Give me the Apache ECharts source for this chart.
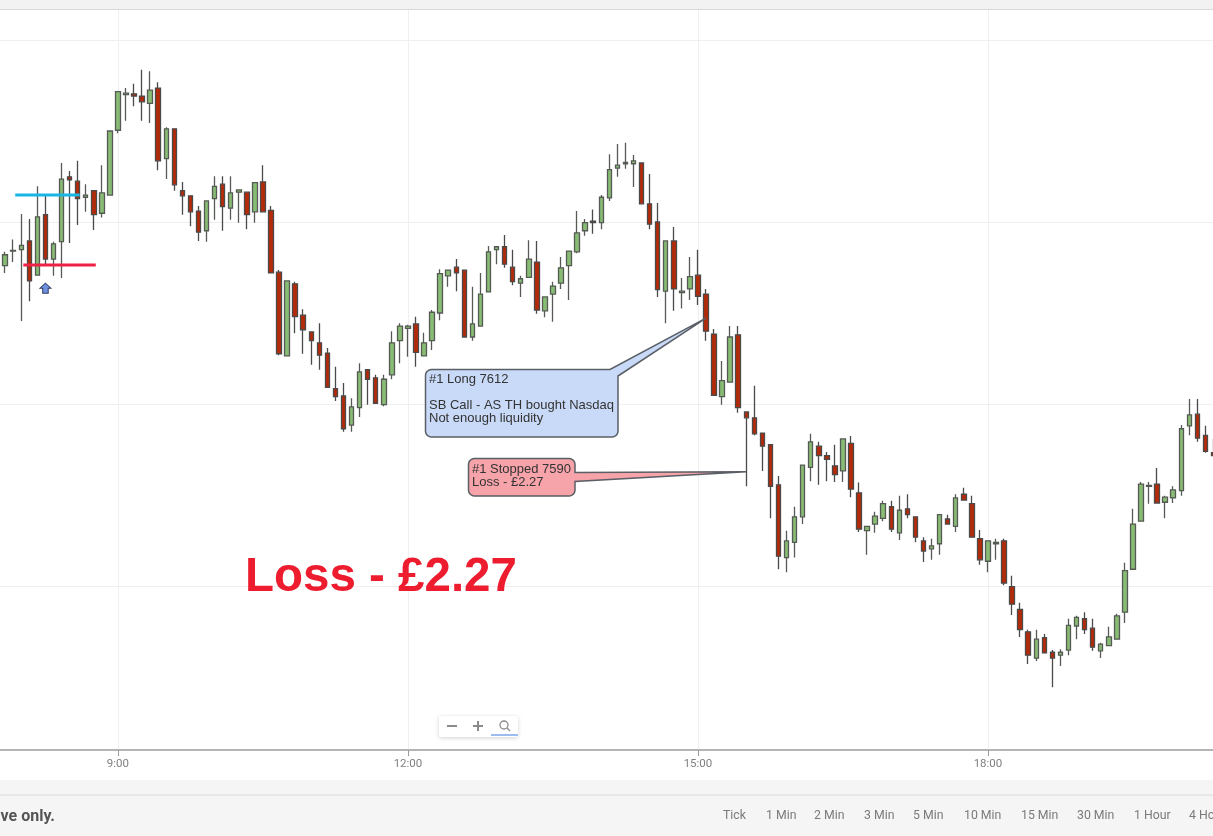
<!DOCTYPE html>
<html><head><meta charset="utf-8">
<style>html,body{margin:0;padding:0;background:#fff}#c{width:1213px;height:836px}</style>
<script src="https://cdn.jsdelivr.net/npm/echarts@6/dist/echarts.min.js"></script>
</head><body><div id="c"></div>
<script>
const tickLabels=['9:00','12:00','15:00','18:00'];
const gridPrices=[7575,7600,7625,7650];
const timeframes=['Tick','1 Min','2 Min','3 Min','5 Min','10 Min','15 Min','30 Min','1 Hour','4 Hour'];
const opens=[7619.0,7621.0,7621.2,7622.4,7617.7,7626.0,7619.9,7622.3,7631.2,7630.6,
7628.4,7629.3,7626.2,7628.7,7637.6,7642.5,7642.6,7642.3,7641.3,7643.4,
7633.7,7637.8,7629.3,7628.6,7626.5,7623.8,7628.2,7630.2,7626.9,7629.1,
7629.1,7626.4,7630.5,7626.6,7618.1,7606.6,7616.5,7612.2,7609.9,7608.4,
7607.0,7602.1,7601.1,7597.1,7599.5,7604.7,7603.6,7599.9,7604.0,7608.7,
7610.4,7611.0,7606.6,7608.7,7612.5,7617.6,7618.8,7618.4,7609.2,7610.7,
7615.4,7621.2,7621.6,7618.8,7616.6,7617.4,7619.5,7612.8,7615.1,7616.6,
7619.0,7620.9,7623.8,7625.1,7624.9,7628.3,7632.4,7633.0,7633.0,7633.1,
7627.5,7625.0,7615.5,7622.4,7615.3,7615.8,7617.7,7615.1,7609.6,7601.0,
7603.0,7609.5,7598.9,7598.1,7596.0,7594.4,7588.9,7578.9,7581.0,7584.5,
7591.3,7594.2,7592.9,7591.5,7590.8,7594.6,7587.8,7582.6,7583.5,7584.3,
7585.9,7582.3,7585.6,7584.5,7581.2,7580.1,7580.8,7584.2,7583.2,7587.6,
7586.3,7581.5,7578.4,7580.8,7581.2,7574.9,7571.8,7568.7,7565.1,7567.9,
7565.9,7565.5,7566.2,7569.5,7570.5,7569.2,7566.1,7566.8,7567.7,7571.4,
7577.3,7583.9,7588.7,7589.0,7586.5,7587.1,7588.1,7597.0,7598.6,7595.7,7593.3];
const closes=[7620.5,7621.1,7621.8,7616.9,7625.7,7619.9,7622.0,7630.9,7630.8,7628.2,
7628.7,7626.0,7629.0,7637.5,7642.9,7642.7,7642.3,7641.5,7643.1,7633.4,
7637.8,7630.1,7628.6,7626.4,7623.6,7627.9,7629.9,7627.1,7629.0,7629.4,
7626.0,7630.4,7626.4,7618.0,7606.9,7616.9,7612.0,7610.2,7608.7,7606.7,
7602.3,7601.0,7596.6,7599.6,7604.4,7603.4,7600.1,7603.4,7608.4,7610.7,
7610.7,7607.1,7608.4,7612.6,7617.9,7618.4,7618.0,7609.2,7611.0,7615.1,
7620.9,7621.6,7619.2,7616.8,7617.2,7619.9,7612.9,7614.7,7616.2,7618.7,
7621.0,7623.5,7624.9,7624.9,7628.4,7632.2,7632.8,7633.2,7633.4,7627.5,
7624.7,7615.7,7622.4,7615.8,7615.5,7617.5,7614.8,7610.0,7601.2,7603.2,
7609.2,7599.5,7598.1,7595.9,7594.2,7588.7,7579.1,7581.2,7584.5,7591.6,
7594.8,7592.9,7592.4,7590.3,7595.2,7588.3,7582.8,7583.2,7584.6,7586.3,
7582.8,7585.4,7584.8,7581.7,7579.8,7580.5,7584.8,7583.5,7587.1,7586.8,
7581.7,7578.6,7581.2,7581.0,7575.4,7572.5,7569.0,7565.5,7567.7,7565.8,
7565.1,7565.9,7569.6,7570.7,7569.0,7566.6,7567.0,7568.0,7570.9,7577.1,
7583.5,7589.0,7588.8,7586.4,7587.2,7588.2,7596.6,7598.5,7595.3,7593.5,7592.9];
const lows=[7618.0,7619.5,7611.4,7614.1,7617.7,7619.2,7617.6,7617.3,7622.1,7624.6,
7626.4,7623.9,7625.6,7628.7,7637.2,7638.9,7640.9,7638.9,7638.6,7632.1,
7630.9,7629.3,7626.0,7624.4,7622.4,7622.3,7625.3,7623.8,7625.3,7624.9,
7624.0,7624.9,7626.4,7618.0,7606.7,7606.6,7609.7,7606.9,7605.4,7604.7,
7602.3,7600.4,7596.2,7596.2,7598.2,7599.9,7600.1,7599.7,7603.4,7605.6,
7606.5,7605.1,7606.6,7607.4,7611.5,7616.1,7615.5,7609.1,7608.7,7610.7,
7615.4,7619.2,7618.7,7616.3,7614.7,7617.4,7612.4,7611.9,7611.3,7615.8,
7614.3,7620.7,7623.1,7623.4,7624.0,7627.9,7631.2,7632.3,7629.8,7627.5,
7624.0,7614.7,7611.1,7612.8,7613.1,7614.3,7613.6,7608.7,7601.1,7599.9,
7603.0,7598.8,7588.7,7595.7,7590.8,7584.3,7577.3,7576.9,7578.9,7583.5,
7589.4,7588.9,7589.4,7589.3,7589.3,7587.2,7582.4,7579.3,7582.3,7583.9,
7582.4,7581.3,7584.3,7581.0,7578.3,7578.6,7579.3,7583.4,7582.4,7586.8,
7581.7,7577.9,7576.9,7578.6,7575.1,7571.0,7568.0,7564.3,7564.7,7565.8,
7561.1,7564.0,7565.5,7567.7,7568.4,7566.1,7565.1,7566.8,7567.7,7569.9,
7577.3,7583.9,7586.3,7586.4,7584.3,7586.4,7587.4,7595.7,7594.8,7593.3,7592.9];
const highs=[7620.9,7622.6,7626.1,7625.4,7629.9,7628.6,7622.3,7633.1,7632.0,7633.4,
7630.2,7629.3,7632.8,7637.5,7642.9,7643.4,7644.0,7645.9,7645.7,7644.2,
7638.0,7637.8,7630.5,7628.6,7627.2,7627.9,7631.3,7631.3,7631.3,7629.5,
7629.1,7630.5,7632.8,7627.2,7618.4,7616.9,7616.8,7613.0,7609.9,7611.1,
7607.7,7605.1,7602.9,7600.8,7605.6,7604.7,7604.0,7604.0,7610.0,7611.1,
7610.9,7612.0,7609.8,7612.9,7618.5,7618.4,7619.9,7618.4,7616.1,7618.0,
7621.7,7621.6,7623.2,7621.2,7617.6,7622.5,7622.4,7614.7,7616.8,7620.2,
7621.0,7626.5,7625.4,7626.7,7628.7,7634.3,7635.7,7635.9,7634.2,7633.1,
7631.6,7627.6,7622.4,7624.3,7617.3,7620.2,7621.2,7615.8,7610.3,7605.9,
7610.7,7610.7,7598.9,7602.5,7596.0,7594.4,7590.1,7582.6,7585.9,7591.6,
7595.9,7594.8,7593.4,7594.4,7595.2,7595.6,7589.2,7583.2,7585.2,7586.7,
7586.7,7587.4,7587.6,7584.5,7581.7,7581.5,7584.8,7584.8,7587.6,7588.5,
7587.4,7582.7,7581.2,7581.5,7581.5,7576.4,7572.7,7569.0,7569.0,7568.4,
7566.2,7566.3,7570.5,7570.9,7571.4,7570.5,7567.2,7569.4,7571.2,7578.2,
7585.6,7589.3,7589.3,7591.2,7587.4,7588.7,7597.1,7600.7,7600.7,7597.0,7595.2];
const entryPrice=7628.7, stopPrice=7619.1, arrowPrice=7615.9, longPrice=7611.8, stoppedPrice=7590.7;

const times=[];
for(let m=7*60+45;times.length<152;m+=5){times.push(Math.floor(m/60)+':'+String(m%60).padStart(2,'0'));}
const table=[['-','-','-','-']].concat(opens.map((o,i)=>[o,closes[i],lows[i],highs[i]]));
const isTick=(i,v)=>tickLabels.includes(v);

const chart=echarts.init(document.getElementById('c'),null,{renderer:'canvas'});
const FONT='"Liberation Sans",Arial,sans-serif';
const ROBOTO='Roboto,sans-serif';
const base=[
 {type:'rect',z:-10,silent:true,shape:{x:0,y:0,width:1213,height:9},style:{fill:'#f2f2f2'}},
 {type:'rect',z:-10,silent:true,shape:{x:0,y:9,width:1213,height:1},style:{fill:'#d9d9d9'}},
 {type:'rect',z:-10,silent:true,shape:{x:0,y:780,width:1213,height:56},style:{fill:'#f5f5f5'}},
 {type:'rect',z:-10,silent:true,shape:{x:0,y:794,width:1213,height:2},style:{fill:'#e8e8e8'}}
];
chart.setOption({
 animation:false,
 backgroundColor:'#ffffff',
 grid:{left:-2.87,top:10,width:1216.37,height:740,containLabel:false,outerBoundsMode:'none'},
 xAxis:{type:'category',data:times,boundaryGap:false,
  axisLine:{lineStyle:{color:'#b5b5b5',width:2}},
  axisTick:{interval:isTick,length:6,lineStyle:{color:'#999'}},
  axisLabel:{interval:isTick,color:'#808080',fontFamily:ROBOTO,fontSize:11.5,margin:8},
  splitLine:{show:true,interval:isTick,lineStyle:{color:'#efefef',width:1}}},
 yAxis:{type:'value',min:7552.47,max:7654.12,
  axisLine:{show:false},axisLabel:{show:false},
  axisTick:{show:false,customValues:gridPrices},
  splitLine:{show:true,lineStyle:{color:'#efefef',width:1}}},
 series:[{type:'candlestick',data:table,barWidth:5,clip:false,
  itemStyle:{color:'#88bc74',color0:'#b42a08',borderColor:'#555a55',borderColor0:'#4a4a4a',borderWidth:1.3},
  markPoint:{silent:true,animation:false,label:{show:false},
   data:[{coord:['8:15',arrowPrice],symbol:'path://M5 0 L10 5 L7.5 5 L7.5 10 L2.5 10 L2.5 5 L0 5 Z',symbolSize:[11,10],
    itemStyle:{color:'#6f92e0',borderColor:'#33406a',borderWidth:1}}]}
 }],
 graphic:base
});

function rounded(x0,y0,x1,y1,r,side,tail){
 const pts=[];const arc=(cx,cy,a0)=>{for(let k=0;k<=6;k++){const a=a0+k/6*Math.PI/2;pts.push([cx+r*Math.cos(a),cy+r*Math.sin(a)]);}};
 arc(x0+r,y0+r,Math.PI);
 if(side==='corner')pts.push(...tail);
 else arc(x1-r,y0+r,-Math.PI/2);
 if(side==='right')pts.push(...tail);
 arc(x1-r,y1-r,0);
 arc(x0+r,y1-r,Math.PI/2);
 return pts;
}
const px=(t,p)=>chart.convertToPixel({gridIndex:0},[t,p]);
const tip1=px('15:05',longPrice);
const tip2=px('15:30',stoppedPrice);
const txt=(x,y,t,o={})=>({type:'text',z:o.z||50,silent:true,x,y,style:{text:t,fill:o.fill||'#333',font:o.font||('13px '+FONT),verticalAlign:'middle',align:o.align||'left'}});
const hline=(a,b,color)=>({type:'line',z:20,silent:true,shape:{x1:a[0]+2,y1:a[1],x2:b[0]+2,y2:b[1]},style:{stroke:color,lineWidth:3}});
const gfx=base.slice();
gfx.push(hline(px('7:55',entryPrice),px('8:35',entryPrice),'#19b5e6'));
gfx.push(hline(px('8:00',stopPrice),px('8:45',stopPrice),'#ee2245'));
gfx.push({type:'polygon',z:40,silent:true,shape:{points:rounded(425.5,369.5,618,437,6,'corner',[[610,369.5],tip1,[618,376]])},style:{fill:'#c9daf8',stroke:'#5a5f66',lineWidth:1.5}});
gfx.push({type:'polygon',z:40,silent:true,shape:{points:rounded(468.5,458.5,575,496,6,'right',[[575,472.5],tip2,[575,481.5]])},style:{fill:'#f7a3aa',stroke:'#5a5f66',lineWidth:1.5}});
gfx.push(txt(429,379,'#1 Long 7612'),txt(429,405,'SB Call - AS TH bought Nasdaq'),txt(429,418,'Not enough liquidity'),
 txt(472,469,'#1 Stopped 7590'),txt(472,482,'Loss - £2.27'));
gfx.push(txt(245,578,'Loss - £2.27',{fill:'#ed1c2e',font:'bold 47.5px '+FONT}));
gfx.push({type:'rect',z:30,silent:true,shape:{x:439,y:716,width:79,height:21,r:2},style:{fill:'#fff',shadowBlur:4,shadowColor:'rgba(0,0,0,0.18)',shadowOffsetY:1}});
gfx.push({type:'rect',z:31,silent:true,shape:{x:447,y:725,width:10,height:2},style:{fill:'#8a8a8a'}});
gfx.push({type:'rect',z:31,silent:true,shape:{x:473,y:725,width:10,height:2},style:{fill:'#8a8a8a'}});
gfx.push({type:'rect',z:31,silent:true,shape:{x:477,y:721,width:2,height:10},style:{fill:'#8a8a8a'}});
gfx.push({type:'circle',z:31,silent:true,shape:{cx:504,cy:725,r:4},style:{fill:'none',stroke:'#8a8a8a',lineWidth:1.3}});
gfx.push({type:'line',z:31,silent:true,shape:{x1:507,y1:728,x2:510,y2:731},style:{stroke:'#8a8a8a',lineWidth:1.3}});
gfx.push({type:'rect',z:31,silent:true,shape:{x:491,y:734,width:27,height:2},style:{fill:'#9dbcf2'}});
gfx.push(txt(55,817,'Indicative only.',{fill:'#555',font:'bold 16px '+ROBOTO,align:'right'}));
const tfX=[723,766,814,864,913,964,1021,1077,1134,1189];
timeframes.forEach((t,i)=>gfx.push(txt(tfX[i],816,t,{fill:'#7a7a7a',font:'12.3px '+ROBOTO})));
chart.setOption({graphic:gfx});
</script></body></html>
